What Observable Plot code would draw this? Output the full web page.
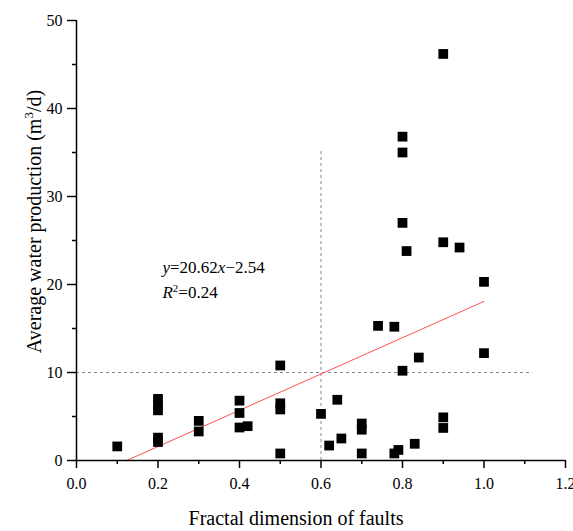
<!DOCTYPE html>
<html><head><meta charset="utf-8">
<script src="https://cdn.jsdelivr.net/npm/d3@7"></script>
<script src="https://cdn.jsdelivr.net/npm/@observablehq/plot@0.6"></script>
<style>body{margin:0;background:#fff} svg{display:block} svg text{font-family:'Liberation Serif','Times New Roman',serif}</style>
</head><body><div id="chart"></div>
<script>
// Data
const fractalDim = [0.10,0.20,0.20,0.20,0.20,0.20,0.30,0.30,0.40,0.40,0.40,0.42,0.50,0.50,0.50,0.50,0.60,0.62,0.64,0.65,0.70,0.70,0.70,0.74,0.78,0.78,0.79,0.80,0.80,0.80,0.80,0.81,0.83,0.84,0.90,0.90,0.90,0.90,0.94,1.00,1.00];
const waterProd  = [1.6,7.0,6.3,5.7,2.6,2.1,4.5,3.3,6.8,5.4,3.75,3.9,10.8,6.5,5.8,0.8,5.3,1.7,6.9,2.5,4.2,3.5,0.8,15.3,15.2,0.8,1.2,10.2,27.0,35.0,36.8,23.8,1.9,11.7,46.2,24.8,4.9,3.7,24.2,20.3,12.2];
const slope = 20.62;
const intercept = -2.54;
const fitXEnd = 1.0;
const thresholdX = 0.6, thresholdXTop = 35.2;
const thresholdY = 10, thresholdYEnd = 1.12;
const xMajor = [0, 0.2, 0.4, 0.6, 0.8, 1.0, 1.2];
const xMinor = [0.1, 0.3, 0.5, 0.7, 0.9, 1.1];
const yMajor = [0, 10, 20, 30, 40, 50];
const yMinor = [5, 15, 25, 35, 45];
const eqText = "y=20.62x\u22122.54";
const r2Text = "R2=0.24";
const xTitle = "Fractal dimension of faults";
const yTitle = "Average water production (m3/d)";

const serif = "'Liberation Serif','Times New Roman',serif";
const points = fractalDim.map((x, i) => ({x, y: waterProd[i]}));
const fitLine = [-intercept / slope, fitXEnd].map(x => ({x, y: slope * x + intercept}));

const chart = Plot.plot({
  width: 573, height: 531,
  marginLeft: 76, marginRight: 8, marginTop: 20, marginBottom: 71,
  style: {fontFamily: serif, fontSize: "16px", color: "black", background: "white"},
  x: {domain: [0, 1.2]},
  y: {domain: [0, 50]},
  marks: [
    Plot.ruleX([thresholdX], {y1: 0, y2: thresholdXTop, stroke: "#888", strokeDasharray: "3,3", strokeWidth: 1}),
    Plot.ruleY([thresholdY], {x1: 0, x2: thresholdYEnd, stroke: "#888", strokeDasharray: "3,3", strokeWidth: 1}),
    Plot.line(fitLine, {x: "x", y: "y", stroke: "#ff5050", strokeWidth: 1}),
    Plot.dot(points, {x: "x", y: "y", symbol: "square", r: 5.5, fill: "black", stroke: null}),
    Plot.axisX(xMajor, {tickSize: 8, tickPadding: 9, tickFormat: d3.format(".1f"), label: null, strokeWidth: 1.5, fontSize: 16, fontFamily: serif}),
    Plot.axisX(xMinor, {tickSize: 4, tickFormat: () => "", label: null, strokeWidth: 1.5}),
    Plot.axisY(yMajor, {tickSize: 9, tickPadding: 5, label: null, strokeWidth: 1.5, fontSize: 16, fontFamily: serif}),
    Plot.axisY(yMinor, {tickSize: 4, tickFormat: () => "", label: null, strokeWidth: 1.5}),
    Plot.ruleX([0], {stroke: "black", strokeWidth: 1.5}),
    Plot.ruleY([0], {stroke: "black", strokeWidth: 1.5}),
    Plot.text([eqText], {x: 0.211, y: 21.98, text: d => d, textAnchor: "start", lineAnchor: "middle", fontSize: 17, fontFamily: serif}),
    Plot.text([r2Text], {x: 0.211, y: 19.14, text: d => d, textAnchor: "start", lineAnchor: "middle", fontSize: 17, fontFamily: serif}),
    Plot.text([xTitle], {frameAnchor: "bottom", text: d => d, dx: -25, dy: 58, textAnchor: "middle", lineAnchor: "middle", fontSize: 20, fontFamily: serif}),
    Plot.text([yTitle], {frameAnchor: "left", text: d => d, dx: -42, dy: -19, rotate: -90, textAnchor: "middle", lineAnchor: "middle", fontSize: 20, fontFamily: serif})
  ]
});
document.getElementById("chart").appendChild(chart);

// rich text: italics and superscripts
d3.select(chart).selectAll("text").each(function() {
  const t = this.textContent;
  const sel = d3.select(this);
  if (t === eqText) {
    this.textContent = "";
    sel.append("tspan").attr("font-style", "italic").text("y");
    sel.append("tspan").text("=20.62");
    sel.append("tspan").attr("font-style", "italic").text("x");
    sel.append("tspan").text("\u22122.54");
  } else if (t === r2Text) {
    this.textContent = "";
    sel.append("tspan").attr("font-style", "italic").text("R");
    sel.append("tspan").attr("font-size", "11px").attr("dy", "-6").text("2");
    sel.append("tspan").attr("dy", "6").text("=0.24");
  } else if (t === yTitle) {
    this.textContent = "";
    sel.append("tspan").text("Average water production (m");
    sel.append("tspan").attr("font-size", "13px").attr("dy", "-8").text("3");
    sel.append("tspan").attr("dy", "8").text("/d)");
  }
});
</script>
</body></html>
